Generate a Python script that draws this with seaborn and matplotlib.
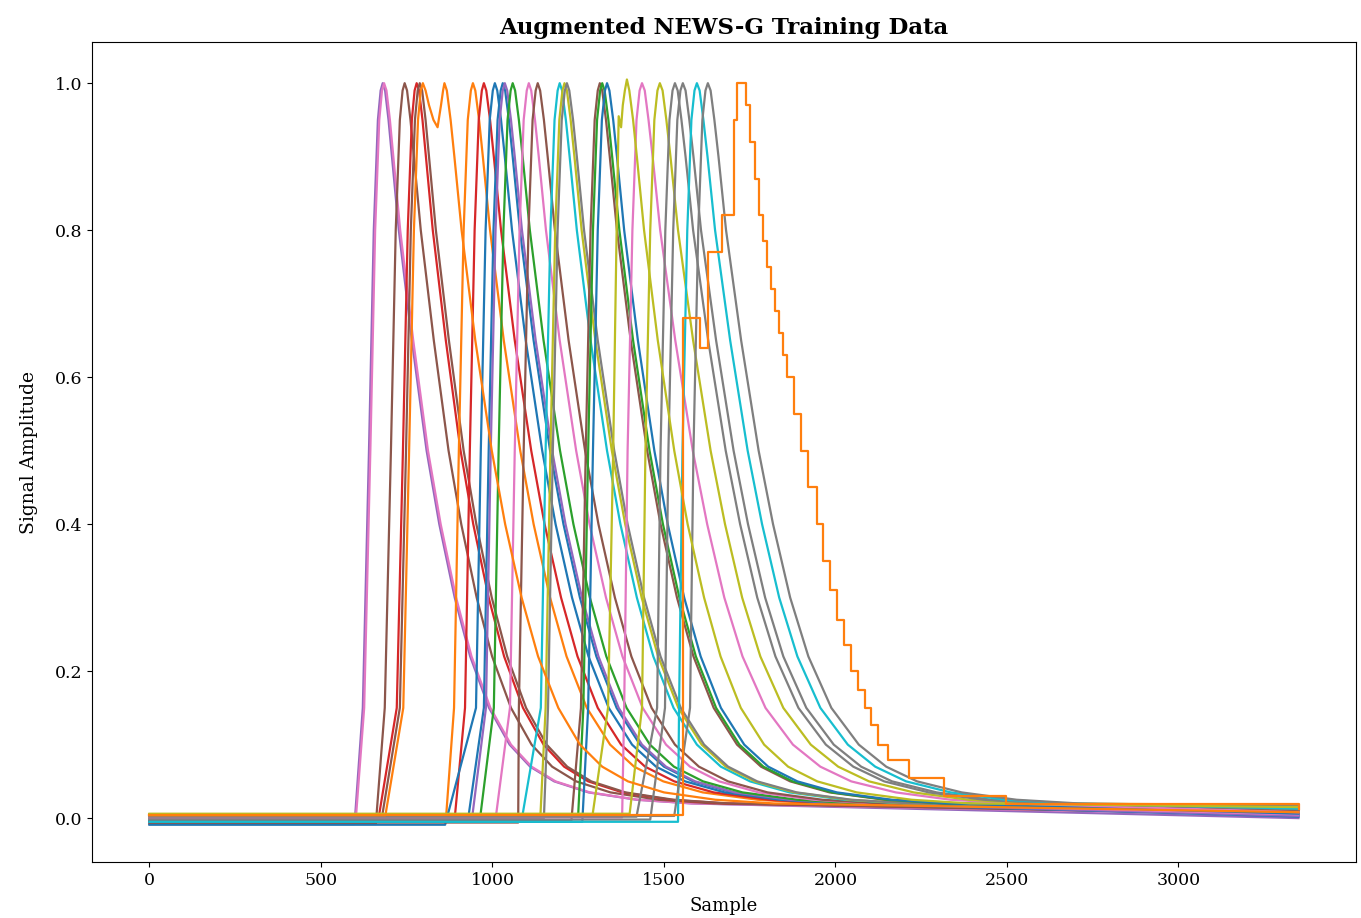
import matplotlib
matplotlib.use("Agg")
import matplotlib.pyplot as plt
import pandas as pd
import seaborn as sns

plt.rcParams['font.family'] = ['DejaVu Serif']

tab10 = sns.color_palette('tab10')

# --- regular pulses, one entry per pulse ---
color_idx = [4, 6, 5, 3, 5, 1, 3, 0, 0, 4, 2, 6, 5, 9, 8, 7, 5, 2, 0, 6, 8, 7, 7, 9, 7]
shape = [0, 0, 0, 0, 0, 1, 1, 1, 1, 1, 1, 1, 1, 1, 1, 1, 1, 1, 1, 2, 2, 2, 2, 2, 2]
base = [-0.008, 0.001, -0.008, 0.0, -0.004, 0.003, 0.0, -0.009, 0.002, -0.002, 0.004, 0.002, -0.006,
        -0.003, 0.005, 0.0, -0.004, 0.005, -0.005, 0.001, 0.006, 0.002, -0.002, -0.005, 0.003]
onset = [598, 602, 660, 668, 676, 865, 890, 862, 930, 940, 965, 1010, 1075, 1085, 1140, 1150, 1230,
         1250, 1262, 1378, 1400, 1420, 1460, 1541, 1530]
peak = [680, 684, 744, 779, 788, 943, 975, 1007, 1030, 1036, 1059, 1106, 1132, 1196, 1210, 1217, 1313,
        1320, 1334, 1436, 1488, 1532, 1555, 1596, 1628]
tail = [0.000, 0.004, 0.005, 0.008, 0.006, 0.010, 0.008, 0.002, 0.004, 0.003, 0.012, 0.005, 0.008, 0.010,
        0.015, 0.012, 0.010, 0.016, 0.006, 0.008, 0.018, 0.014, 0.012, 0.013, 0.016]
last_sample = 3350

# pulse shapes: samples before / after the peak where each amplitude level is reached
rise_levels = [0.15, 0.5, 0.8, 0.95, 0.99]
rise_before = [[58, 40, 26, 14, 6],   # fast (early pulses)
               [55, 41, 27, 15, 6],   # medium
               [52, 42, 28, 16, 7]]   # slow (late pulses)
fall_levels = [0.99, 0.95, 0.9, 0.8, 0.65, 0.5, 0.4, 0.3, 0.22, 0.15, 0.1, 0.07, 0.05, 0.035, 0.025, 0.02]
fall_after = [[7, 17, 27, 47, 85, 128, 165, 210, 255, 310, 370, 430, 500, 600, 740, 900],
              [7, 18, 29, 50, 90, 138, 177, 225, 273, 332, 400, 470, 555, 670, 830, 1000],
              [8, 19, 31, 53, 97, 148, 190, 240, 293, 360, 440, 520, 610, 740, 900, 1080]]

# --- irregular pulses read point by point ---
dbl_x = [0, 688, 740, 757, 771, 783, 791, 797, 805, 815, 828, 840, 850, 856, 860, 867, 878, 889, 910,
         950, 998, 1037, 1085, 1133, 1192, 1255, 1320, 1395, 1500, 1650, 1820, 3350]
dbl_y = [0.004, 0.004, 0.15, 0.5, 0.8, 0.95, 0.99, 1.0, 0.99, 0.97, 0.95, 0.94, 0.97, 0.99, 1.0, 0.99,
         0.95, 0.9, 0.8, 0.65, 0.5, 0.4, 0.3, 0.22, 0.15, 0.1, 0.07, 0.05, 0.035, 0.025, 0.02, 0.008]
kink_x = [0, 1292, 1337, 1352, 1362, 1368, 1375, 1380, 1386, 1392, 1399, 1410, 1421, 1442, 1482, 1530,
          1569, 1617, 1665, 1724, 1792, 1862, 1947, 2062, 2222, 2392, 3350]
kink_y = [0.005, 0.005, 0.15, 0.5, 0.8, 0.955, 0.94, 0.97, 0.99, 1.005, 0.99, 0.95, 0.9, 0.8, 0.65, 0.5,
          0.4, 0.3, 0.22, 0.15, 0.1, 0.07, 0.05, 0.035, 0.025, 0.02, 0.015]
stair_x = [0, 1546, 1556, 1605, 1614, 1628, 1652, 1669, 1692, 1705, 1713, 1740, 1752, 1764, 1776, 1788,
           1800, 1812, 1824, 1836, 1848, 1860, 1880, 1900, 1920, 1945, 1965, 1985, 2005, 2025, 2045,
           2065, 2085, 2105, 2125, 2152, 2214, 2317, 2498, 3350]
stair_y = [0.004, 0.004, 0.68, 0.64, 0.64, 0.77, 0.77, 0.82, 0.82, 0.95, 1.0, 0.97, 0.92, 0.87, 0.82,
           0.785, 0.75, 0.72, 0.69, 0.66, 0.63, 0.60, 0.55, 0.50, 0.45, 0.40, 0.35, 0.31, 0.27, 0.235,
           0.20, 0.175, 0.15, 0.127, 0.10, 0.079, 0.054, 0.030, 0.019, 0.012]

rows = []
for i in range(len(peak)):
    g = shape[i]
    xs = ([0, onset[i]] + [peak[i] - w for w in rise_before[g]] + [peak[i]]
          + [peak[i] + w for w in fall_after[g]] + [last_sample])
    ys = [base[i], base[i]] + rise_levels + [1.0] + fall_levels + [tail[i]]
    for x, y in zip(xs, ys):
        rows.append({'sample': x, 'amp': y, 'pulse': f'p{i}'})
for x, y in zip(dbl_x, dbl_y):
    rows.append({'sample': x, 'amp': y, 'pulse': 'double'})
for x, y in zip(kink_x, kink_y):
    rows.append({'sample': x, 'amp': y, 'pulse': 'kink'})
df = pd.DataFrame(rows)

palette = {f'p{i}': tab10[c] for i, c in enumerate(color_idx)}
palette['double'] = tab10[1]
palette['kink'] = tab10[8]

fig, ax = plt.subplots(figsize=(13.61, 9.18), dpi=100)
fig.subplots_adjust(left=0.0676, right=0.9963, top=0.954, bottom=0.061)

sns.lineplot(data=df, x='sample', y='amp', hue='pulse', palette=palette, estimator=None,
             sort=False, legend=False, linewidth=1.6, ax=ax)

stair = pd.DataFrame({'sample': stair_x, 'amp': stair_y})
sns.lineplot(data=stair, x='sample', y='amp', color=tab10[1], drawstyle='steps-post',
             estimator=None, sort=False, linewidth=1.6, ax=ax)

ax.set_title('Augmented NEWS-G Training Data', fontsize=16.5, fontweight='bold')
ax.set_xlabel('Sample', fontsize=13, labelpad=6)
ax.set_ylabel('Signal Amplitude', fontsize=13.5, labelpad=12)
ax.tick_params(labelsize=12.5)
ax.set_xticks([0, 500, 1000, 1500, 2000, 2500, 3000])
ax.set_yticks([0.0, 0.2, 0.4, 0.6, 0.8, 1.0])
ax.margins(x=0.05, y=0.05)

fig.savefig('out.png', dpi=100)
